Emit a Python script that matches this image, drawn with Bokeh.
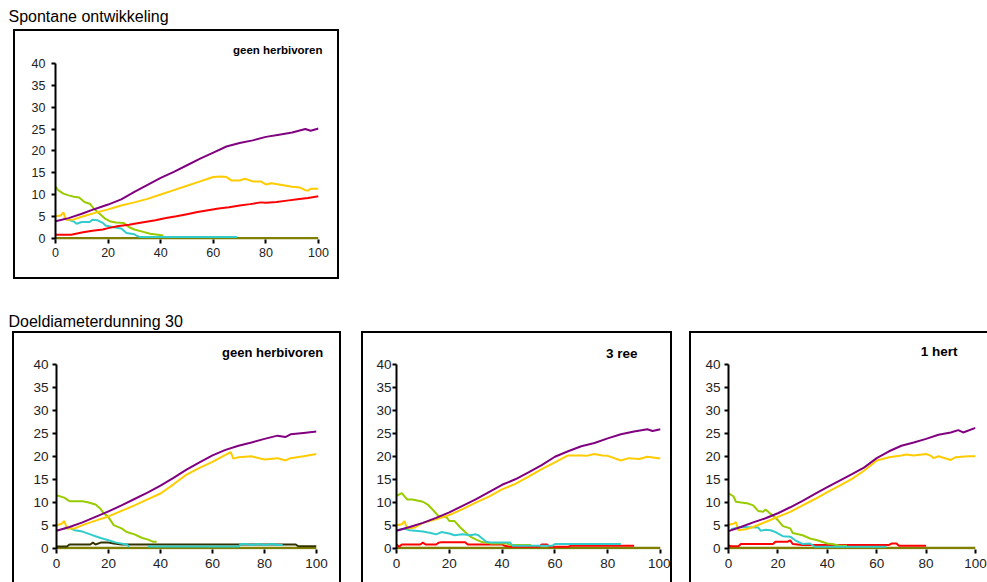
from bokeh.plotting import figure
from bokeh.models import Range1d, FixedTicker, Spacer
from bokeh.layouts import column, row
from bokeh.embed import file_html
from bokeh.resources import INLINE

nan = float("nan")

# ---------------- data ----------------
X_TICKS = [0, 20, 40, 60, 80, 100]
Y_TICKS = [0, 5, 10, 15, 20, 25, 30, 35, 40]

SECTION_TITLES = ["Spontane ontwikkeling", "Doeldiameterdunning 30"]
PANEL_LABELS = ["geen herbivoren", "geen herbivoren", "3 ree", "1 hert"]

A_purple_x = [0, 5, 10, 15, 20, 25, 30, 35, 40, 45, 50, 55, 60, 65, 70, 75, 80, 85, 90, 95, 97, 100]
A_purple_y = [3.9, 4.6, 5.6, 6.7, 7.7, 8.9, 10.6, 12.2, 13.8, 15.2, 16.7, 18.2, 19.6, 21.0, 21.8, 22.4, 23.2, 23.7, 24.2, 25.0, 24.6, 25.1]
A_yellow_x = [0, 2, 3, 4, 7, 10, 15, 20, 25, 30, 35, 40, 45, 50, 55, 58, 60, 63, 65, 67, 70, 72, 75, 78, 80, 82, 85, 90, 93, 95, 96, 97, 100]
A_yellow_y = [5.0, 5.2, 5.9, 4.2, 4.3, 4.9, 5.8, 6.6, 7.5, 8.2, 9.0, 10.0, 11.0, 12.0, 13.0, 13.6, 14.0, 14.1, 14.0, 13.2, 13.2, 13.6, 13.0, 13.0, 12.3, 12.6, 12.3, 11.8, 11.6, 11.0, 10.9, 11.3, 11.3]
A_red_x = [0, 6, 10, 14, 18, 20, 24, 28, 30, 34, 38, 42, 46, 50, 54, 58, 62, 66, 70, 74, 78, 80, 84, 88, 92, 96, 100]
A_red_y = [0.8, 0.8, 1.3, 1.7, 2.0, 2.3, 2.8, 3.1, 3.3, 3.7, 4.1, 4.6, 5.0, 5.5, 6.0, 6.4, 6.8, 7.1, 7.5, 7.8, 8.2, 8.1, 8.3, 8.6, 8.9, 9.2, 9.6]
A_green_x = [0, 1, 3, 5, 7, 9, 11, 13, 15, 17, 19, 21, 23, 26, 28, 30, 33, 36, 39, 41]
A_green_y = [11.8, 11.0, 10.2, 9.8, 9.5, 9.3, 8.3, 7.9, 6.5, 5.5, 4.4, 3.8, 3.6, 3.5, 2.5, 2.0, 1.5, 1.0, 0.8, 0.6]
A_cyan_x = [3, 5, 7, 8, 10, 13, 14, 16, 18, 19, 22, 25, 27, 30, 31, 32, 69]
A_cyan_y = [4.6, 4.2, 3.8, 3.3, 3.7, 3.7, 4.2, 4.1, 3.5, 2.9, 2.5, 2.2, 1.2, 0.9, 0.5, 0.3, 0.3]
A_olive_x = [0, 100]
A_olive_y = [0, 0]

B_purple_x = [0, 5, 10, 15, 20, 25, 30, 35, 40, 45, 50, 55, 60, 65, 70, 75, 80, 85, 88, 90, 95, 100]
B_purple_y = [3.8, 4.6, 5.6, 6.8, 8.0, 9.3, 10.7, 12.1, 13.6, 15.3, 17.1, 18.7, 20.2, 21.4, 22.3, 23.0, 23.8, 24.5, 24.2, 24.8, 25.1, 25.4]
B_yellow_x = [0, 2, 3, 4, 7, 10, 15, 20, 25, 30, 35, 40, 45, 50, 55, 60, 63, 65, 67, 68, 70, 75, 80, 85, 88, 90, 95, 100]
B_yellow_y = [5.0, 5.3, 5.9, 4.3, 4.3, 5.0, 6.0, 6.9, 8.1, 9.3, 10.6, 11.9, 13.9, 16.0, 17.5, 18.8, 19.7, 20.3, 20.9, 19.5, 19.8, 20.0, 19.3, 19.6, 19.1, 19.6, 20.0, 20.5]
B_green_x = [0, 3, 5, 10, 12, 15, 17, 18, 20, 22, 25, 27, 30, 33, 35, 37, 38.5]
B_green_y = [11.5, 11.0, 10.2, 10.2, 10.0, 9.5, 8.5, 7.7, 6.7, 5.0, 4.3, 3.5, 3.0, 2.2, 1.9, 1.4, 1.4]
B_cyan_x = [3, 5, 7, 10, 13, 15, 17, 20, 23, 27, 28, 31, 35, 70, 71, 73, 75, 78, 80, 83, 85, 87]
B_cyan_y = [4.3, 4.4, 3.9, 3.6, 3.0, 2.6, 2.2, 1.7, 1.2, 0.8, 0.3, nan, 0.35, 0.35, 0.9, 0.9, 0.7, 0.9, 0.7, 0.9, 0.7, 0.7]
B_dark_x = [0, 4, 5, 13, 14, 15, 17, 20, 22, 25, 92, 93, 100]
B_dark_y = [0.35, 0.35, 0.8, 0.8, 1.2, 0.8, 1.2, 1.2, 1.0, 0.8, 0.8, 0.4, 0.4]
B_olive_x = [0, 100]
B_olive_y = [0, 0]

C_purple_x = [0, 5, 10, 15, 20, 25, 30, 35, 40, 45, 50, 55, 60, 65, 70, 75, 80, 85, 90, 95, 97, 100]
C_purple_y = [3.8, 4.6, 5.5, 6.6, 7.8, 9.2, 10.6, 12.2, 13.8, 15.0, 16.5, 18.1, 19.9, 21.1, 22.2, 22.9, 23.9, 24.8, 25.4, 25.9, 25.5, 25.9]
C_yellow_x = [0, 2, 3, 4, 7, 10, 15, 20, 25, 30, 35, 40, 45, 50, 55, 60, 63, 65, 70, 72, 75, 78, 80, 85, 88, 92, 95, 100]
C_yellow_y = [5.0, 5.2, 5.9, 4.3, 4.5, 5.5, 6.3, 7.2, 8.5, 9.9, 11.2, 12.8, 14.0, 15.6, 17.2, 18.7, 19.6, 20.2, 20.2, 20.1, 20.5, 20.2, 20.1, 19.1, 19.6, 19.4, 19.9, 19.5]
C_green_x = [0, 2, 4, 6, 10, 12, 14, 16, 19, 20, 22, 24, 26, 28, 30, 32, 34, 36, 42, 43, 51]
C_green_y = [11.4, 12.0, 10.6, 10.6, 10.1, 9.4, 8.2, 6.9, 6.7, 5.9, 5.9, 4.6, 3.5, 2.5, 1.9, 1.4, 1.2, 1.0, 1.0, 0.7, 0.7]
C_cyan_x = [0, 3, 5, 10, 13, 15, 17, 20, 22, 25, 28, 30, 31, 32, 34, 36, 43, 44, 59, 60, 85]
C_cyan_y = [3.9, 4.2, 3.9, 3.6, 3.3, 3.0, 3.5, 3.2, 2.8, 3.0, 2.8, 3.0, 2.8, 2.3, 1.4, 1.2, 1.2, 0.5, 0.5, 0.9, 0.9]
C_red_x = [0, 1, 2, 9, 10, 11, 15, 16, 17, 26, 27, 40, 41, 43, 54, 55, 57, 58, 65, 66, 90]
C_red_y = [0.8, 0.3, 0.8, 0.8, 1.2, 0.8, 0.8, 1.2, 1.3, 1.3, 0.8, 0.8, 0.5, 0.3, 0.3, 0.8, 0.8, 0.3, 0.3, 0.5, 0.5]
C_olive_x = [0, 100]
C_olive_y = [0, 0]

D_purple_x = [0, 5, 10, 15, 20, 25, 30, 35, 40, 45, 50, 55, 60, 65, 70, 75, 80, 85, 90, 93, 95, 100]
D_purple_y = [3.7, 4.6, 5.6, 6.5, 7.6, 8.9, 10.3, 11.8, 13.3, 14.7, 16.1, 17.6, 19.6, 21.1, 22.3, 23.0, 23.8, 24.7, 25.2, 25.7, 25.2, 26.2]
D_yellow_x = [0, 2, 3, 4, 7, 10, 15, 20, 25, 30, 35, 40, 45, 50, 55, 60, 65, 70, 72, 75, 80, 82, 83, 85, 90, 92, 97, 100]
D_yellow_y = [5.1, 5.3, 5.7, 3.9, 4.1, 4.6, 5.7, 6.8, 7.9, 9.3, 10.7, 12.2, 13.6, 15.1, 16.9, 19.1, 19.8, 20.2, 20.4, 20.2, 20.5, 20.1, 19.6, 20.0, 19.2, 19.8, 20.0, 20.0]
D_green_x = [0, 2, 3, 8, 10, 12, 14, 15, 17, 20, 22, 25, 26, 30, 33, 36, 40, 42, 45, 48]
D_green_y = [11.9, 11.3, 10.1, 9.7, 9.3, 8.1, 7.9, 8.4, 7.5, 6.1, 4.8, 4.3, 3.3, 2.8, 2.1, 1.7, 1.0, 0.9, 0.5, 0.5]
D_cyan_x = [1, 5, 12, 13, 15, 17, 19, 22, 25, 27, 30, 33, 35, 64]
D_cyan_y = [4.1, 4.6, 4.5, 3.8, 4.0, 3.9, 3.5, 2.6, 2.5, 1.7, 0.9, 1.0, 0.3, 0.3]
D_red_x = [0, 1, 4, 5, 18, 19, 24, 25, 26, 30, 65, 66, 68, 69, 80]
D_red_y = [0.6, 0.4, 0.4, 0.9, 0.9, 1.4, 1.4, 1.7, 0.9, 0.7, 0.7, 1.0, 1.0, 0.5, 0.5]
D_olive_x = [0, 100]
D_olive_y = [0, 0]

# ---------------- styling ----------------
FONT = "Liberation Sans"
COL = {
    "purple": "#800080", "yellow": "#FFCC00", "red": "#FF0000",
    "green": "#99CC00", "cyan": "#33CCCC", "olive": "#808000", "dark": "#333300",
}


def make_panel(width, height, borders, label, label_size, label_offset, label_standoff,
               tick_size, y_standoff, x_standoff, series, css):
    bl, br, bt, bb = borders
    p = figure(width=width, height=height, output_backend="svg",
               toolbar_location=None, tools="",
               x_range=Range1d(0, 100), y_range=Range1d(-0.3, 40),
               min_border_left=bl, min_border_right=br,
               min_border_top=bt, min_border_bottom=bb,
               styles=css)
    p.outline_line_color = None
    p.grid.visible = False
    for ax, ticks in ((p.xaxis, X_TICKS), (p.yaxis, Y_TICKS)):
        ax.ticker = FixedTicker(ticks=ticks)
        ax.minor_tick_line_color = None
        ax.minor_tick_out = 0
        ax.major_tick_in = 0
        ax.major_tick_out = 4
        ax.major_tick_line_width = 2
        ax.major_tick_line_color = "black"
        ax.axis_line_width = 2
        ax.axis_line_color = "black"
        ax.major_label_text_font = FONT
        ax.major_label_text_font_size = tick_size
        ax.major_label_text_color = "#222222"
    p.xaxis.axis_line_color = None
    p.xaxis.major_label_standoff = x_standoff
    p.yaxis.major_label_standoff = y_standoff

    p.title.text = label
    p.title.align = "right"
    p.title.offset = label_offset
    p.title.standoff = label_standoff
    p.title.text_font = FONT
    p.title.text_font_size = label_size
    p.title.text_font_style = "bold"
    p.title.text_color = "black"

    for xs, ys, c, w in series:
        p.line(xs, ys, line_color=COL[c], line_width=w)
    return p


def make_heading(text, width, height, top):
    p = figure(width=width, height=height, output_backend="svg",
               toolbar_location=None, tools="",
               min_border_left=8, min_border_right=0,
               min_border_top=top, min_border_bottom=0)
    p.xaxis.visible = False
    p.yaxis.visible = False
    p.grid.visible = False
    p.outline_line_color = None
    p.title.text = text
    p.title.align = "left"
    p.title.offset = 0
    p.title.standoff = 0
    p.title.text_font = FONT
    p.title.text_font_size = "16px"
    p.title.text_font_style = "normal"
    p.title.text_color = "black"
    return p


FULL = {"border": "2px solid black"}
NO_BOTTOM = {"border-top": "2px solid black", "border-left": "2px solid black",
             "border-right": "2px solid black"}
LEFT_TOP = {"border-top": "2px solid black", "border-left": "2px solid black"}

hA = make_heading(SECTION_TITLES[0], 345, 29, 24)

pA = make_panel(326, 250, (40, 23, 32, 42),
                PANEL_LABELS[0], "11.5px", -4, 16, "12.5px", 6, 4,
                [(A_olive_x, A_olive_y, "olive", 2.5),
                 (A_green_x, A_green_y, "green", 2),
                 (A_cyan_x, A_cyan_y, "cyan", 2),
                 (A_red_x, A_red_y, "red", 2),
                 (A_yellow_x, A_yellow_y, "yellow", 2),
                 (A_purple_x, A_purple_y, "purple", 2)], FULL)

hB = make_heading(SECTION_TITLES[1], 345, 52, 50)

pB = make_panel(329, 251, (42, 27, 28, 28),
                PANEL_LABELS[1], "13px", -6.7, 10, "13.5px", 4, 5,
                [(B_olive_x, B_olive_y, "olive", 2.5),
                 (B_dark_x, B_dark_y, "dark", 2),
                 (B_green_x, B_green_y, "green", 2),
                 (B_cyan_x, B_cyan_y, "cyan", 2),
                 (B_yellow_x, B_yellow_y, "yellow", 2),
                 (B_purple_x, B_purple_y, "purple", 2)], NO_BOTTOM)

pC = make_panel(311, 251, (33, 14, 31, 31),
                PANEL_LABELS[2], "13.5px", 23, 8, "13.5px", 1, 5,
                [(C_olive_x, C_olive_y, "olive", 2.5),
                 (C_red_x, C_red_y, "red", 2),
                 (C_green_x, C_green_y, "green", 2),
                 (C_cyan_x, C_cyan_y, "cyan", 2),
                 (C_yellow_x, C_yellow_y, "yellow", 2),
                 (C_purple_x, C_purple_y, "purple", 2)], NO_BOTTOM)

pD = make_panel(298, 251, (37, 14, 31, 35),
                PANEL_LABELS[3], "13.5px", 18, 12, "13.5px", 4, 5,
                [(D_olive_x, D_olive_y, "olive", 2.5),
                 (D_red_x, D_red_y, "red", 2),
                 (D_green_x, D_green_y, "green", 2),
                 (D_cyan_x, D_cyan_y, "cyan", 2),
                 (D_yellow_x, D_yellow_y, "yellow", 2),
                 (D_purple_x, D_purple_y, "purple", 2)], LEFT_TOP)

layout = column(
    hA,
    row(Spacer(width=13, height=250), pA),
    hB,
    row(Spacer(width=12, height=251), pB, Spacer(width=20, height=251), pC,
        Spacer(width=17, height=251), pD),
)

open("out.html", "w").write(file_html(layout, INLINE))
